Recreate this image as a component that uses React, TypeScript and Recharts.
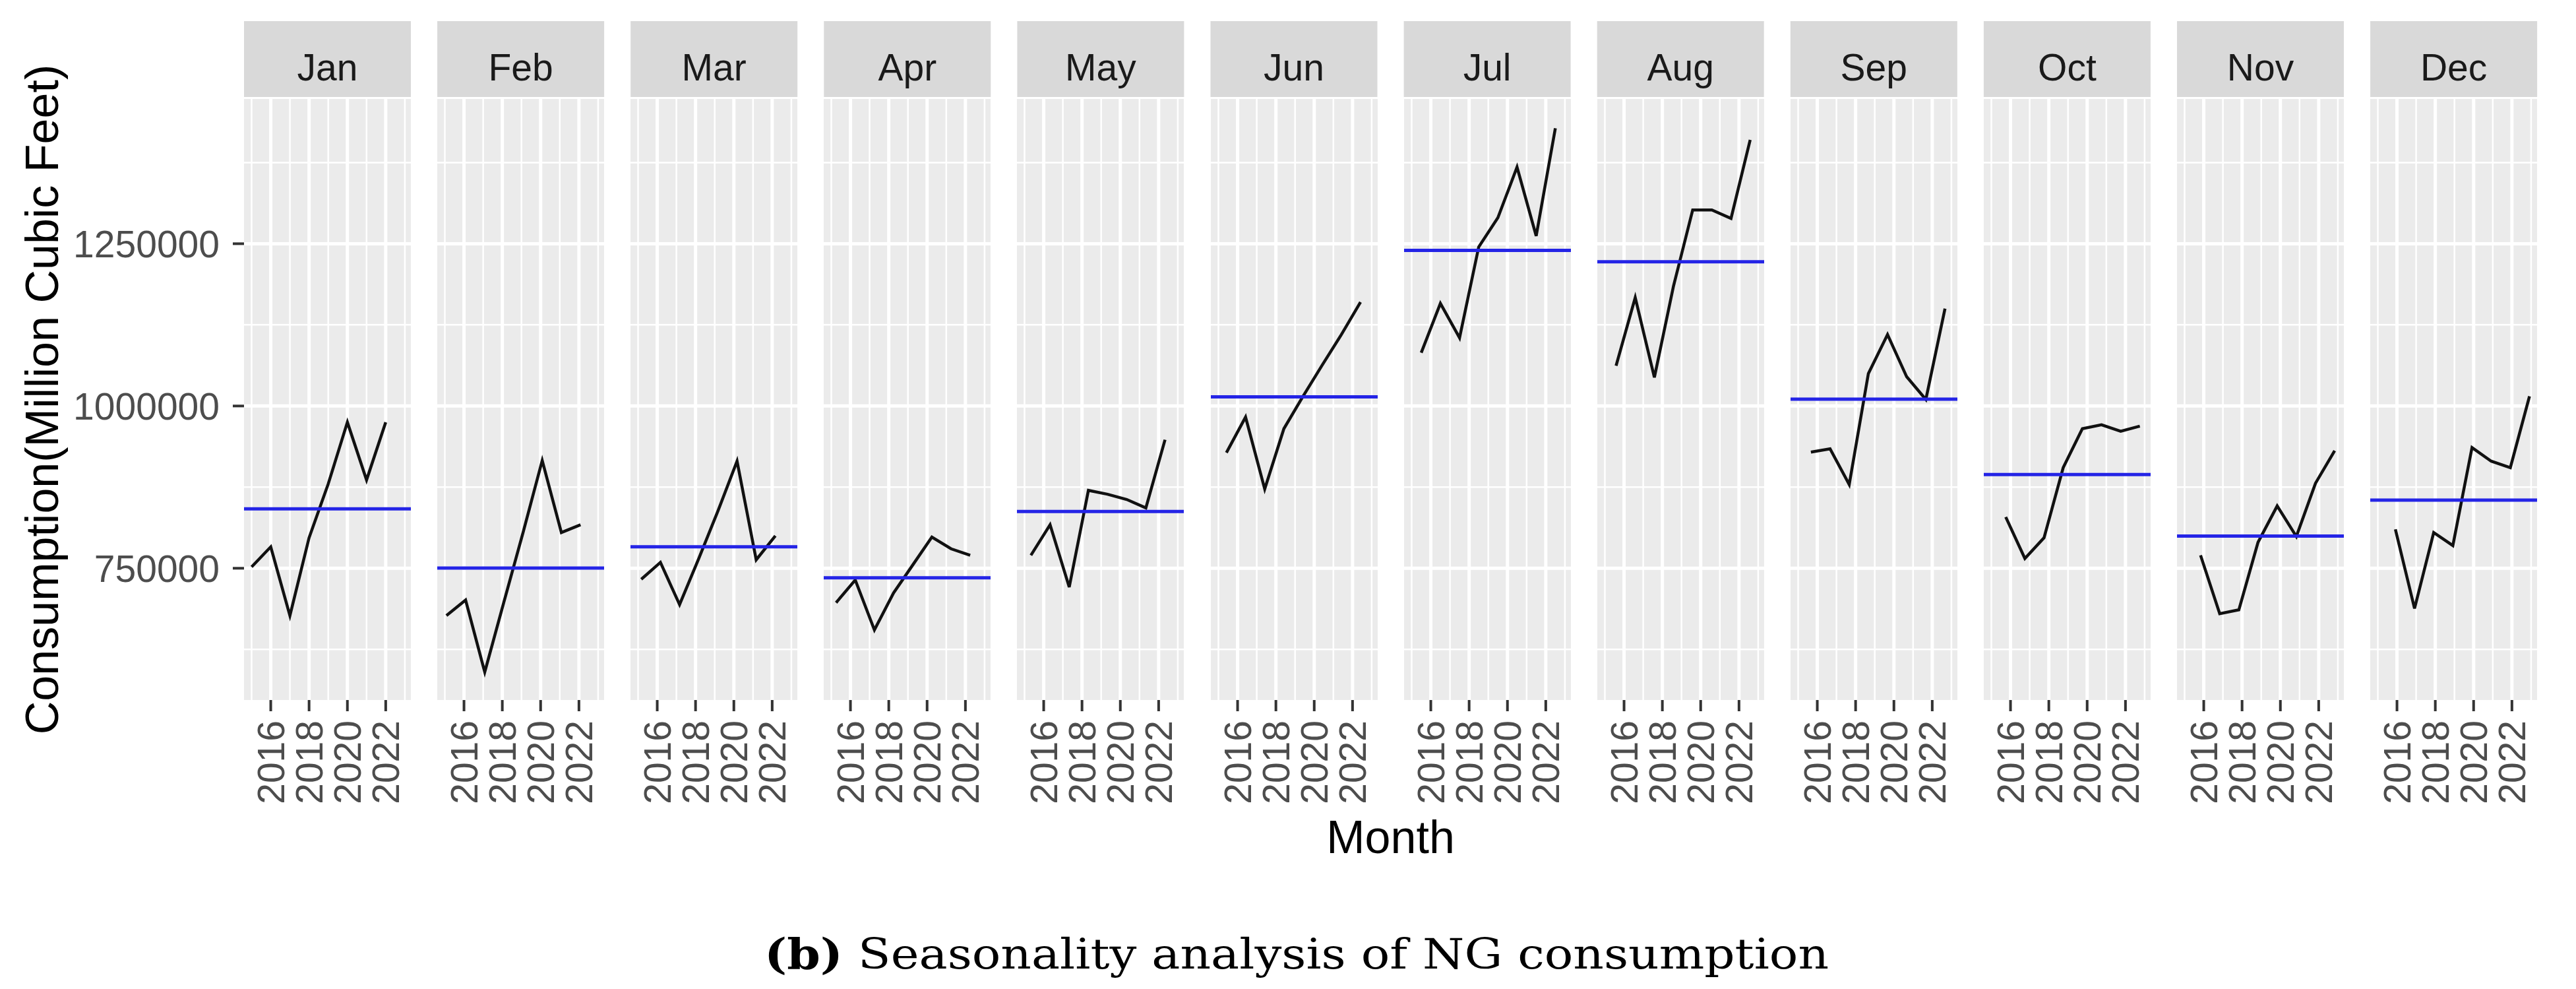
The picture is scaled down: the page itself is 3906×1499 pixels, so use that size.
import React from 'react';
import { LineChart, Line, XAxis, YAxis, ReferenceLine, ReferenceArea } from 'recharts';

// ---------- data ----------
const MONTHS = ['Jan', 'Feb', 'Mar', 'Apr', 'May', 'Jun', 'Jul', 'Aug', 'Sep', 'Oct', 'Nov', 'Dec'];
const YEARS = [2015, 2016, 2017, 2018, 2019, 2020, 2021, 2022];

const JAN = [752000, 783000, 677000, 797000, 880000, 975000, 886000, 975000];
const FEB = [677000, 701000, 590000, 698000, 805000, 916000, 805000, 817000];
const MAR = [733000, 759000, 694000, 765000, 838000, 915000, 763000, 800000];
const APR = [697000, 732000, 655000, 712000, 755000, 798000, 780000, 770000];
const MAY = [770000, 817000, 721000, 870000, 864000, 856000, 843000, 948000];
const JUN = [928000, 983000, 872000, 965000, 1015000, 1063000, 1110000, 1160000];
const JUL = [1082000, 1158000, 1105000, 1245000, 1290000, 1368000, 1262000, 1428000];
const AUG = [1062000, 1167000, 1044000, 1185000, 1302000, 1302000, 1289000, 1410000];
const SEP = [929000, 934000, 879000, 1050000, 1110000, 1045000, 1010000, 1150000];
const OCT = [829000, 765000, 797000, 905000, 965000, 971000, 961000, 969000];
const NOV = [770000, 680000, 686000, 790000, 846000, 799000, 881000, 931000];
const DEC = [810000, 688000, 805000, 785000, 936000, 915000, 905000, 1015000];

const MONTH_MEANS = [841500, 750300, 783000, 735400, 837400, 1014000, 1239600, 1222100, 1010500, 894500, 799500, 854900];

const Y_TICKS = [750000, 1000000, 1250000];
const Y_MINOR = [625000, 875000, 1125000, 1375000];
const X_TICKS = [2016, 2018, 2020, 2022];
const X_MINOR = [2015, 2017, 2019, 2021, 2023];
const X_DOMAIN: [number, number] = [2014.604, 2023.313];
const Y_DOMAIN: [number, number] = [547000, 1473000];

const SERIES = [JAN, FEB, MAR, APR, MAY, JUN, JUL, AUG, SEP, OCT, NOV, DEC];

const Y_TITLE = 'Consumption(Million Cubic Feet)';
const X_TITLE = 'Month';
const CAPTION_BOLD = '(b)';
const CAPTION_TEXT = ' Seasonality analysis of NG consumption';

// ---------- layout ----------
const W = 3906;
const H = 1499;
const PANEL_LEFT0 = 370;
const PANEL_PITCH = 293.1;
const PANEL_W = 253;
const PANEL_TOP = 150;
const PANEL_H = 911;
const XAXIS_H = 200;
const STRIP_TOP = 32;
const STRIP_BOTTOM = 147;
const SANS = '"Liberation Sans", Arial, Helvetica, sans-serif';

const YTick = (props: any) => {
  const { x, y, payload } = props;
  return (
    <text x={x} y={y} dy="0.36em" textAnchor="end" fontSize={57} fill="#4D4D4D" fontFamily={SANS}>
      {payload.value}
    </text>
  );
};

const XTick = (props: any) => {
  const { x, y, payload } = props;
  return (
    <text
      transform={`translate(${x},${y}) rotate(-90)`}
      dy="0.36em"
      textAnchor="end"
      fontSize={57}
      fill="#4D4D4D"
      fontFamily={SANS}
    >
      {payload.value}
    </text>
  );
};

function Panel({ index }: { index: number }) {
  const first = index === 0;
  const rows = SERIES[index].map((v, k) => ({ t: YEARS[k] + index / 12, v }));
  const left = first ? 0 : PANEL_LEFT0 + index * PANEL_PITCH;
  const width = first ? PANEL_LEFT0 + PANEL_W : PANEL_W;
  return (
    <div style={{ position: 'absolute', left, top: PANEL_TOP }}>
      <LineChart width={width} height={PANEL_H + XAXIS_H} data={rows} margin={{ top: 0, right: 0, bottom: 0, left: 0 }}>
        <ReferenceArea
          x1={X_DOMAIN[0]}
          x2={X_DOMAIN[1]}
          y1={Y_DOMAIN[0]}
          y2={Y_DOMAIN[1]}
          fill="#EBEBEB"
          fillOpacity={1}
          stroke="none"
          ifOverflow="visible"
          zIndex={-300}
        />
        {Y_MINOR.map((v) => (
          <ReferenceLine key={'ym' + v} y={v} stroke="#FFFFFF" strokeWidth={2.5} zIndex={-250} />
        ))}
        {X_MINOR.map((v) => (
          <ReferenceLine key={'xm' + v} x={v} stroke="#FFFFFF" strokeWidth={2.5} zIndex={-250} />
        ))}
        {Y_TICKS.map((v) => (
          <ReferenceLine key={'yM' + v} y={v} stroke="#FFFFFF" strokeWidth={5} zIndex={-200} />
        ))}
        {X_TICKS.map((v) => (
          <ReferenceLine key={'xM' + v} x={v} stroke="#FFFFFF" strokeWidth={5} zIndex={-200} />
        ))}
        <XAxis
          dataKey="t"
          type="number"
          domain={X_DOMAIN}
          allowDataOverflow
          ticks={X_TICKS}
          interval={0}
          height={XAXIS_H}
          axisLine={false}
          tickSize={17}
          tickMargin={14}
          tickLine={{ stroke: '#333333', strokeWidth: 4 }}
          tick={<XTick />}
        />
        <YAxis
          type="number"
          domain={Y_DOMAIN}
          allowDataOverflow
          ticks={Y_TICKS}
          interval={0}
          hide={!first}
          width={PANEL_LEFT0}
          axisLine={false}
          tickSize={17}
          tickMargin={20}
          tickLine={{ stroke: '#333333', strokeWidth: 4 }}
          tick={<YTick />}
        />
        <Line
          type="linear"
          dataKey="v"
          stroke="#111111"
          strokeWidth={4.5}
          dot={false}
          activeDot={false}
          isAnimationActive={false}
        />
        <ReferenceLine y={MONTH_MEANS[index]} stroke="#2424E6" strokeWidth={5} zIndex={450} />
      </LineChart>
    </div>
  );
}

export default function App() {
  const panelCenter = PANEL_TOP + PANEL_H / 2;
  const plotCenterX = (PANEL_LEFT0 + PANEL_LEFT0 + 11 * PANEL_PITCH + PANEL_W) / 2;
  return (
    <div style={{ position: 'absolute', left: 0, top: 0, width: W, height: H, background: '#FFFFFF', overflow: 'hidden' }}>
      <svg width={W} height={H} style={{ position: 'absolute', left: 0, top: 0 }}>
        {MONTHS.map((m, i) => {
          const x = PANEL_LEFT0 + i * PANEL_PITCH;
          return (
            <g key={m}>
              <rect x={x} y={STRIP_TOP} width={PANEL_W} height={STRIP_BOTTOM - STRIP_TOP} fill="#D9D9D9" />
              <text x={x + PANEL_W / 2} y={122} textAnchor="middle" fontSize={57} fill="#1A1A1A" fontFamily={SANS}>
                {m}
              </text>
            </g>
          );
        })}
        <text
          transform={`translate(88,${panelCenter}) rotate(-90)`}
          textAnchor="middle"
          fontSize={70}
          fill="#000000"
          fontFamily={SANS}
        >
          {Y_TITLE}
        </text>
        <text x={plotCenterX} y={1293} textAnchor="middle" fontSize={70} fill="#000000" fontFamily={SANS}>
          {X_TITLE}
        </text>
        <text
          x={1159}
          y={1468}
          textLength={1614}
          lengthAdjust="spacingAndGlyphs"
          fontSize={64}
          fill="#000000"
          fontFamily='"DejaVu Serif", "Liberation Serif", serif'
        >
          <tspan fontWeight="bold">{CAPTION_BOLD}</tspan>
          <tspan>{CAPTION_TEXT}</tspan>
        </text>
      </svg>
      {MONTHS.map((m, i) => (
        <Panel key={m} index={i} />
      ))}
    </div>
  );
}
